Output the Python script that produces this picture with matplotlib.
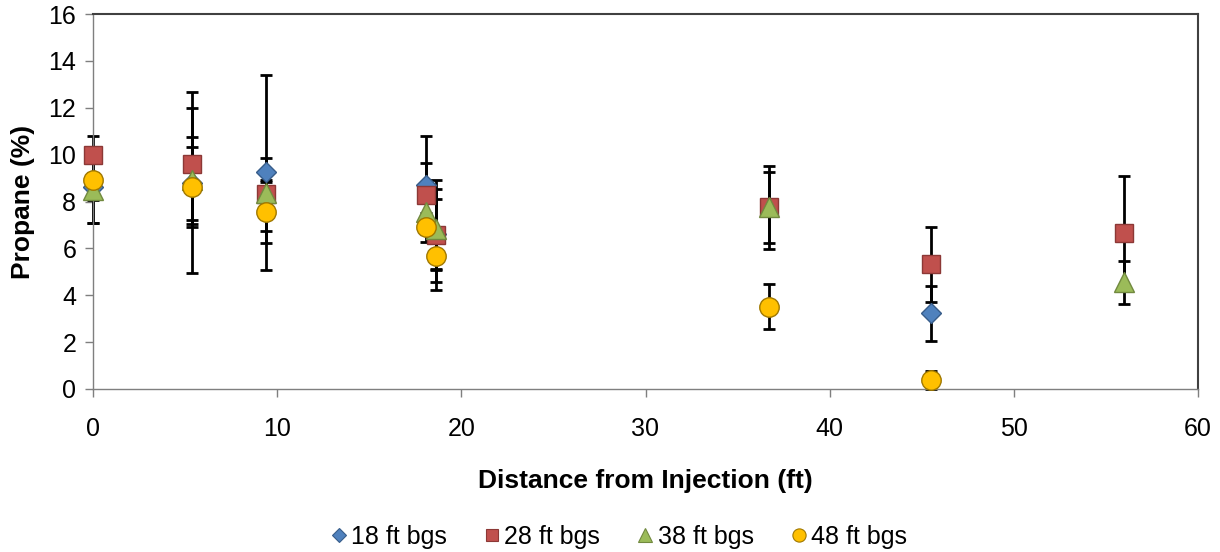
import numpy as np
import matplotlib
matplotlib.use("Agg")
import matplotlib.pyplot as plt
from matplotlib.lines import Line2D

plt.rcParams['font.family'] = ['Liberation Sans', 'DejaVu Sans']

# Sampling locations (distance from injection point, ft)
distance = [0.0, 5.4, 9.4, 18.1, 18.6, 36.7, 45.5, 56.0]

# Mean propane concentration (%) at each depth, with standard deviations
nan = np.nan
p18 = [8.6, 8.8, 9.24, 8.7, 6.6, nan, 3.23, nan]
e18 = [1.5, 3.87, 4.15, 2.1, 1.5, nan, 1.17, nan]

p28 = [10.0, 9.6, 8.3, 8.28, 6.57, 7.75, 5.33, 6.64]
e28 = [0.8, 2.4, 1.55, 1.35, 2.35, 1.76, 1.6, 2.46]

p38 = [8.5, 8.9, 8.35, 7.57, 6.81, 7.75, nan, 4.55]
e38 = [1.42, 1.85, 0.5, 0.5, 1.72, 1.5, nan, 0.93]

p48 = [8.92, 8.63, 7.57, 6.9, 5.67, 3.51, 0.38, nan]
e48 = [0.86, 1.7, 1.35, 0.62, 1.09, 0.95, 0.4, nan]

labels = ['18 ft bgs', '28 ft bgs', '38 ft bgs', '48 ft bgs']
x_ticks = [0, 10, 20, 30, 40, 50, 60]
y_ticks = [0, 2, 4, 6, 8, 10, 12, 14, 16]

series = [
    (p18, e18, 'D', 10.0, '#4F81BD', '#385D8A'),
    (p28, e28, 's', 13.2, '#C0504D', '#8C3836'),
    (p38, e38, '^', 14.5, '#9BBB59', '#71893F'),
    (p48, e48, 'o', 14.0, '#FFC000', '#A07800'),
]

fig = plt.figure(figsize=(12.2, 5.52), dpi=100)
ax = fig.add_axes([93 / 1220, 1 - 389 / 552, (1198 - 93) / 1220, (389 - 14) / 552])

x = np.array(distance)
# error bars first, markers stacked above them in series order
for vals, errs, *_ in series:
    ax.errorbar(x, vals, yerr=errs, fmt='none', ecolor='black', elinewidth=2.0,
                capsize=4.0, capthick=2.0, zorder=2, clip_on=False)

handles = []
for (vals, errs, mk, ms, fc, ec), lab in zip(series, labels):
    ax.plot(x, vals, linestyle='none', marker=mk, markersize=ms,
            markerfacecolor=fc, markeredgecolor=ec, markeredgewidth=1.0,
            zorder=3, clip_on=False)
    handles.append(Line2D([], [], linestyle='none', marker=mk,
                          markersize=ms * 0.68, markerfacecolor=fc,
                          markeredgecolor=ec, markeredgewidth=0.8, label=lab))

ax.set_xlim(0, 60)
ax.set_ylim(0, 16)
ax.set_xticks(x_ticks)
ax.set_yticks(y_ticks)
ax.tick_params(axis='both', direction='out', length=6, width=1,
               color='#7f7f7f', labelsize=18, labelcolor='black', pad=6)
ax.tick_params(axis='x', pad=14)

for side in ['left', 'bottom']:
    ax.spines[side].set_color('#7f7f7f')
    ax.spines[side].set_linewidth(1.0)
for side in ['top', 'right']:
    ax.spines[side].set_color('#404040')
    ax.spines[side].set_linewidth(1.5)

ax.set_xlabel('Distance from Injection (ft)', fontsize=19, fontweight='bold',
              labelpad=20)
ax.set_ylabel('Propane (%)', fontsize=19, fontweight='bold', labelpad=10)

fig.legend(handles=handles, loc='center', bbox_to_anchor=(0.506, 1 - 537 / 552),
           ncol=4, frameon=False, fontsize=18, handletextpad=0.05,
           columnspacing=1.35, handlelength=0.9)

fig.savefig('out.png', dpi=100, facecolor='white')
